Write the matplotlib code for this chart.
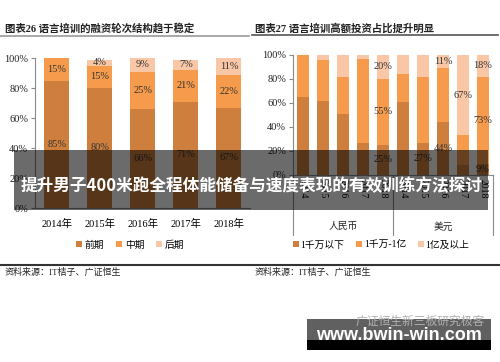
import matplotlib
matplotlib.use("Agg")
import matplotlib.pyplot as plt
from matplotlib.patches import Rectangle
import numpy as np

plt.rcParams['font.family'] = ['Liberation Serif', 'Noto Sans CJK SC', 'DejaVu Sans']

# 图表26 数据
years_l = ['2014年', '2015年', '2016年', '2017年', '2018年']
early = [85, 80, 66, 71, 67]
mid = [15, 15, 25, 21, 22]
late = [0, 4, 9, 7, 11]
legend_l = ['前期', '中期', '后期']

# 图表27 数据
years_r = ['2014', '2015', '2016', '2017', '2018'] * 2
groups_r = ['人民币', '美元']
small = [65, 62, 51, 27, 25, 61, 27, 44, 8, 9]
medium = [35, 34, 31, 70, 55, 23, 55, 45, 25, 73]
large = [0, 4, 18, 3, 20, 16, 18, 11, 67, 18]
legend_r = ['1千万以下', '1千万-1亿', '1亿及以上']
# 哪些柱子带数值标签
small_lbl = [4, 6, 7, 9]
medium_lbl = [4, 9]
large_lbl = [4, 7, 8, 9]

c1, c2, c3 = '#CF7F3D', '#F69B4B', '#F9C6A6'
W, H = 500, 362

fig = plt.figure(figsize=(5, 3.62), dpi=100)


def ax_px(x0, y_top, x1, y_bot):
    return fig.add_axes([x0 / W, 1 - y_bot / H, (x1 - x0) / W, (y_bot - y_top) / H])


def fx(x):
    return x / W


def fy(y):
    return 1 - y / H


def style_axis(ax):
    for s in ['top', 'right']:
        ax.spines[s].set_visible(False)
    for s in ['left', 'bottom']:
        ax.spines[s].set_color('#8a8a8a')
        ax.spines[s].set_linewidth(0.8)
    ax.set_ylim(0, 100)
    ax.set_yticks(range(0, 101, 20))
    ax.set_yticklabels(['%d%%' % v for v in range(0, 101, 20)])
    ax.tick_params(axis='y', labelsize=7.5, length=3, pad=2, colors='#8a8a8a')
    for t in ax.get_yticklabels():
        t.set_color('#222222')


# ---- 左图 ----
ax1 = ax_px(35, 58, 250, 208)
x = np.arange(len(years_l))
b1 = ax1.bar(x, early, 0.58, color=c1)
b2 = ax1.bar(x, mid, 0.58, bottom=early, color=c2)
b3 = ax1.bar(x, late, 0.58, bottom=np.array(early) + np.array(mid), color=c3)
ax1.set_xlim(-0.51, 4.49)
style_axis(ax1)
ax1.set_xticks(x)
ax1.set_xticklabels(years_l)
ax1.tick_params(axis='x', length=0, labelsize=7.5, pad=8)
for i in range(len(x)):
    base = 0
    for v in (early[i], mid[i], late[i]):
        if v > 0:
            ax1.text(x[i], base + v / 2, '%d%%' % v, ha='center', va='center', fontsize=7.5, color='#333333')
        base += v

fig.legend([b1, b2, b3], legend_l, loc='center', bbox_to_anchor=(fx(130), fy(245)),
           ncol=3, frameon=False, fontsize=7, handlelength=0.6, handleheight=0.6,
           handletextpad=0.3, columnspacing=1.2)

# ---- 右图 ----
ax2 = ax_px(293, 55, 493, 175)
xr = np.arange(len(small))
r1 = ax2.bar(xr, small, 0.58, color=c1)
r2 = ax2.bar(xr, medium, 0.58, bottom=small, color=c2)
r3 = ax2.bar(xr, large, 0.58, bottom=np.array(small) + np.array(medium), color=c3)
ax2.set_xlim(-0.5, 9.5)
style_axis(ax2)
ax2.set_xticks(xr)
ax2.set_xticklabels(years_r, rotation=270, fontsize=7)
ax2.tick_params(axis='x', length=0, pad=3)
for i in small_lbl:
    ax2.text(xr[i], small[i] / 2, '%d%%' % small[i], ha='center', va='center', fontsize=7.5, color='#333333')
for i in medium_lbl:
    ax2.text(xr[i], small[i] + medium[i] / 2, '%d%%' % medium[i], ha='center', va='center',
             fontsize=7.5, color='#333333')
for i in large_lbl:
    ax2.text(xr[i], 100 - large[i] / 2, '%d%%' % large[i], ha='center', va='center',
             fontsize=7.5, color='#333333')
trans = ax2.get_xaxis_transform()
for xv in (-0.5, 4.5, 9.5):
    ax2.plot([xv, xv], [0, -0.5], transform=trans, color='#8a8a8a', lw=0.8, clip_on=False)
for k, g in enumerate(groups_r):
    ax2.text(2 + 5 * k, -0.43, g, transform=trans, ha='center', va='center', fontsize=7, color='#222222')

fig.legend([r1, r2, r3], legend_r, loc='center', bbox_to_anchor=(fx(381), fy(245)),
           ncol=3, frameon=False, fontsize=7, handlelength=0.6, handleheight=0.6,
           handletextpad=0.2, columnspacing=1.2)

# ---- 标题、分隔线、来源 ----
fig.text(fx(5), fy(28), '图表26 语言培训的融资轮次结构趋于稳定', fontsize=7.5, fontweight='bold',
         ha='left', va='center', color='#222222')
fig.text(fx(255), fy(28), '图表27 语言培训高额投资占比提升明显', fontsize=7.5, fontweight='bold',
         ha='left', va='center', color='#222222')
fig.add_artist(plt.Line2D([0, fx(249)], [fy(36), fy(36)], color='#9a9a9a', lw=1.2))
fig.add_artist(plt.Line2D([fx(252), fx(498)], [fy(35), fy(35)], color='#555555', lw=1.2))
fig.add_artist(plt.Line2D([0, 1], [fy(265), fy(265)], color='#333333', lw=1.5))
fig.text(fx(5), fy(272), '资料来源：IT桔子、广证恒生', fontsize=6.5, ha='left', va='center', color='#222222')
fig.text(fx(255), fy(272), '资料来源：IT桔子、广证恒生', fontsize=6.5, ha='left', va='center', color='#222222')

# ---- 横幅 ----
fig.add_artist(Rectangle((fx(14), fy(210)), fx(488) - fx(14), fy(150) - fy(210),
                         transform=fig.transFigure, color='black', alpha=0.58, lw=0))
fig.text(fx(252), fy(186), '提升男子400米跑全程体能储备与速度表现的有效训练方法探讨',
         family=['Noto Sans CJK SC', 'DejaVu Sans'], fontsize=12, fontweight='bold',
         color='white', ha='center', va='center')

# ---- 水印 ----
fig.text(fx(485), fy(321), '广证恒生新三板研究极客', family=['Noto Sans CJK SC'], fontsize=8.5,
         color='#b0b0b0', ha='right', va='center')
fig.add_artist(Rectangle((fx(307), fy(340)), fx(491) - fx(307), fy(319) - fy(340),
                         transform=fig.transFigure, color='#444444', alpha=0.85, lw=0))
fig.add_artist(Rectangle((fx(307), fy(350)), fx(491) - fx(307), fy(340) - fy(350),
                         transform=fig.transFigure, color='black', lw=0))
fig.text(fx(399), fy(336), 'www.bwin-win.com', family=['Liberation Sans'], fontsize=13,
         fontweight='bold', color='white', ha='center', va='center')

fig.savefig('out.png', dpi=100)
